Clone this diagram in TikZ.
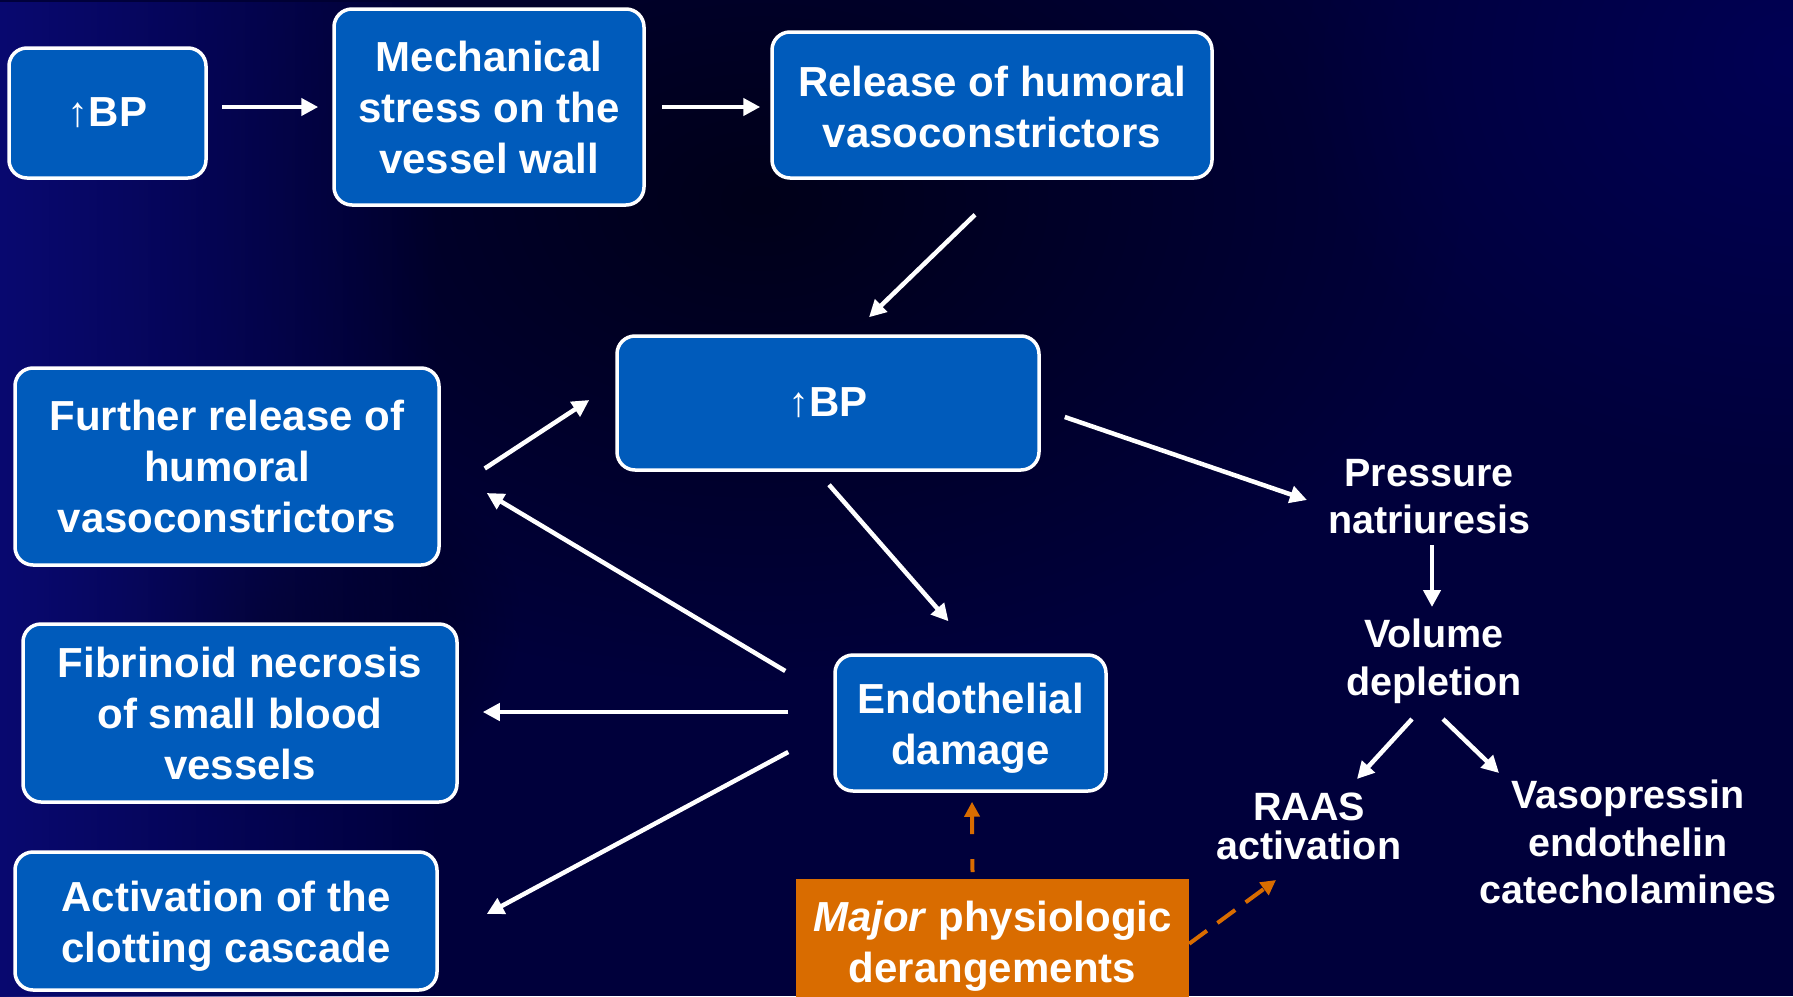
\documentclass[tikz,border=0pt]{standalone}
\usepackage{fontspec}
\setmainfont{Liberation Sans}
\usetikzlibrary{arrows.meta,calc,fadings}
\definecolor{boxblue}{RGB}{0,91,187}
\definecolor{majorange}{RGB}{217,108,0}
\definecolor{bgbase}{rgb}{0,0,0.23}
\definecolor{bgdark}{rgb}{0,0,0.1}
\definecolor{bgleft}{rgb}{0.035,0.035,0.44}
\definecolor{bgright}{rgb}{0,0,0.33}
\tikzfading[name=myfadeout, inner color=transparent!0, outer color=transparent!100]
\tikzfading[name=myfaderight, left color=transparent!0, right color=transparent!100]
\newcommand{\upar}{{\fontseries{m}\selectfont\char"2191}}
\tikzset{
  bluebox/.style={draw=white, line width=3.5pt, fill=boxblue, rounded corners=18pt,
    text=white, font=\fontsize{42}{51}\selectfont\bfseries, align=center,
    inner sep=0pt, anchor=center},
  boxtext/.style={text=white, font=\fontsize{42}{51}\selectfont\bfseries, align=center,
    inner sep=0pt, anchor=center},
  plaintext/.style={text=white, font=\fontsize{39.5}{47.5}\selectfont\bfseries,
    align=center, inner sep=0pt, anchor=center},
  orangebox/.style={fill=majorange, text=white, font=\fontsize{42}{51}\selectfont\bfseries,
    align=center, inner sep=0pt, anchor=north},
  flow/.style={draw=white, line width=4.5pt, -{Triangle[length=17pt,width=17pt]}},
  oflow/.style={draw=majorange, line width=4pt, -{Triangle[length=15pt,width=15pt]}}
}
\begin{document}
\begin{tikzpicture}[x=1pt,y=-1pt]
\useasboundingbox (0,0) rectangle (1793,996);
\clip (0,0) rectangle (1793,996);
% background
\fill[bgbase] (0,0) rectangle (1793,996);
\fill[bgdark, path fading=myfadeout] (760,200) ellipse [x radius=700pt, y radius=480pt];
\fill[bgdark, path fading=myfadeout] (260,620) ellipse [x radius=260pt, y radius=200pt];
\fill[bgright, path fading=myfadeout] (1793,60) ellipse [x radius=500pt, y radius=420pt];
\fill[bgleft, path fading=myfaderight] (0,0) rectangle (440,996);

\node[bluebox, minimum width=197pt, minimum height=130pt] (b1) at (107.5,113) {\raisebox{-2.3pt}{\upar BP}};
\node[bluebox, minimum width=310pt, minimum height=196pt] (b2) at (489,107) {Mechanical\\stress on the\\vessel wall};
\node[bluebox, minimum width=440pt, minimum height=146pt] (b3) at (992,105) {};
\node[boxtext] (t3) at ($(b3.center)+(0,1.5)$) {Release of humoral\\vasoconstrictors};
\node[bluebox, minimum width=422pt, minimum height=134pt] (b4) at (828,403) {\raisebox{-2.3pt}{\upar BP}};
\node[bluebox, minimum width=424pt, minimum height=197pt] (b5) at (227,466.5) {Further release of\\humoral\\vasoconstrictors};
\node[bluebox, minimum width=434pt, minimum height=178pt] (b6) at (240,713) {Fibrinoid necrosis\\of small blood\\vessels};
\node[bluebox, minimum width=422pt, minimum height=138pt] (b7) at (226,921) {};
\node[boxtext] (t7) at ($(b7.center)+(0,5.5)$) {Activation of the\\clotting cascade};
\node[bluebox, minimum width=271pt, minimum height=136pt] (b8) at (970.5,723) {};
\node[boxtext] (t8) at ($(b8.center)+(0,5.5)$) {Endothelial\\damage};
\node[orangebox, minimum width=393pt, minimum height=135pt] (mj) at (992.5,879) {\textit{Major} physiologic\\derangements};

\node[plaintext] (pn) at (1429,496.5) {Pressure\\natriuresis};
\node[plaintext] (vd) at (1434,661.5) {Volume\\depletion};
\node[plaintext, font=\fontsize{39.5}{39}\selectfont\bfseries] (raas) at (1309,826) {RAAS\\activation};
\node[plaintext] (vaso) at (1628,842) {Vasopressin\\endothelin\\catecholamines};

\draw[flow] ($(b1.east |- b2.west)+(14,0)$) -- ($(b2.west)+(-14,0)$);
\draw[flow] ($(b2.east)+(16,0)$) -- ($(b2.east -| b3.west)+(-10,0)$);
\draw[flow] ($(b3.south)+(-17,35)$) -- ($(b4.north)+(41,-17)$);
\draw[flow] ($(b5.east)+(44,2)$) -- ($(b4.west)+(-26,-3)$);
\draw[flow] ($(b4.east)+(24,14)$) -- ($(pn.center)+(-122,3.5)$);
\draw[flow] ($(b4.south)+(1,13)$) -- ($(b8.north)+(-22,-32)$);
\draw[flow] ($(b8.west)+(-48,-52)$) -- ($(b5.east)+(46,26.5)$);
\draw[flow] ($(b8.west)+(-45,-11)$) -- ($(b6.east)+(24,-1)$);
\draw[flow] ($(b8.west)+(-45,29)$) -- ($(b7.east)+(48,-7)$);
\draw[flow] ($(pn.center)+(3,48.5)$) -- ($(vd.center)+(-2,-54.5)$);
\draw[flow] ($(vd.center)+(-22,57.5)$) -- ($(raas.center)+(48,-47)$);
\draw[flow] ($(vd.center)+(9,57.5)$) -- ($(vaso.center)+(-129,-69)$);
\draw[oflow, dash pattern=on 13pt off 25pt on 40pt off 10pt] ($(mj.north)+(-20,-7)$) -- ($(b8.south)+(1.5,9)$);
\draw[oflow, dash pattern=on 22pt off 13pt] ($(mj.east)+(0,-3)$) -- ($(raas.center)+(-33,54)$);
\end{tikzpicture}
\end{document}
